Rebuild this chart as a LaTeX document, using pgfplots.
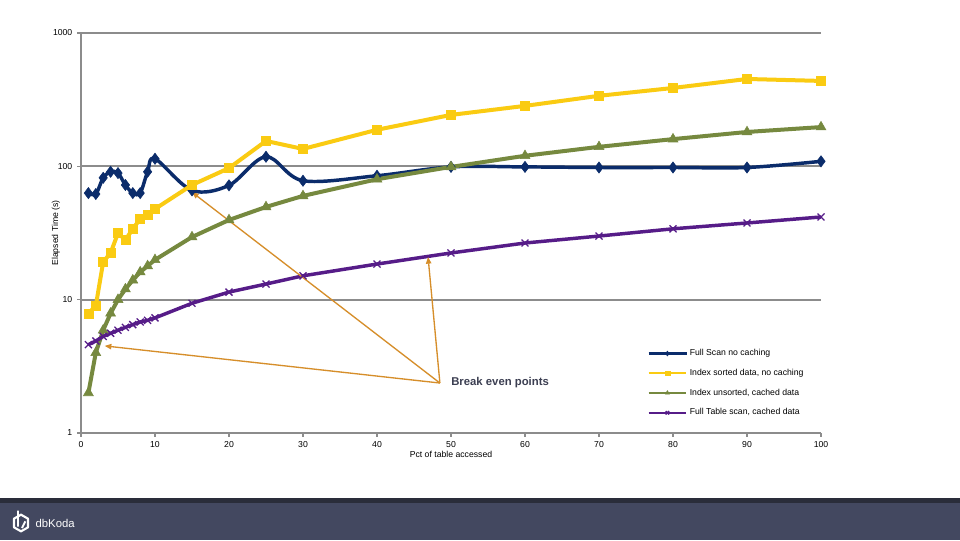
\documentclass[border=0pt]{standalone}
\usepackage{fontspec}
\setmainfont{Liberation Sans}
\usepackage{pgfplots}
\pgfplotsset{compat=1.18}
\usetikzlibrary{arrows.meta}
\definecolor{scan}{HTML}{0B2C6B}
\definecolor{sorted}{HTML}{FACB12}
\definecolor{unsorted}{HTML}{76893F}
\definecolor{cached}{HTML}{561C88}
\definecolor{note}{HTML}{D68E2A}
\definecolor{notetext}{HTML}{3C3F52}
\definecolor{gridgray}{HTML}{8C8C8C}
\definecolor{barblue}{HTML}{434860}
\definecolor{bardark}{HTML}{2A2D3A}

\pgfplotstableread{
x   scan  sorted unsorted cached
1   63    7.9    2.0      4.6
2   62    9.0    4.0      4.9
3   82    19.2   5.9      5.3
4   91    22.4   7.9      5.6
5   89    31.6   10.0     5.9
6   72.5  28.0   12.0     6.2
7   63    34.0   14.0     6.5
8   63    40.3   16.1     6.8
9   91    43.2   17.9     7.0
10  114   47.9   19.9     7.3
15  66    72.5   29.5     9.4
20  72    97     39.6     11.4
25  118   155    49.6     13.1
30  78    135    60       15.1
40  85    188    80       18.5
50  99    243    99       22.4
60  99    284    120      26.6
70  98    338    140      30
80  98    387    160      34
90  98    452    181      37.6
100 109   437    197      41.7
}\timings

\begin{document}
\begin{tikzpicture}
% page 960 x 540 px at 0.75pt per px
\fill[white] (0,0) rectangle (720pt,405pt);
\fill[barblue] (0,0) rectangle (720pt,27.75pt);
\fill[bardark] (0,27.75pt) rectangle (720pt,31.5pt);
% logo mark and name
\draw[white, line width=1.6pt, line join=round]
  (15.75pt,19pt) -- (21pt,16pt) -- (21pt,9.5pt) -- (15.75pt,6.5pt) -- (10.5pt,9.5pt) -- (10.5pt,16pt) -- cycle;
\draw[white, line width=1.4pt] (13.5pt,10pt) -- (13.5pt,22pt) (16.5pt,9pt) -- (19pt,14pt);
\node[white, anchor=west, font=\fontsize{8.5}{9}\selectfont, inner sep=0pt] at (26.5pt,12.5pt) {dbKoda};

\begin{axis}[
    at={(60.75pt,80.25pt)}, anchor=south west,
    scale only axis, width=555pt, height=300pt,
    xmin=0, xmax=100, ymin=1, ymax=1000, ymode=log,
    axis x line*=bottom, axis y line*=left,
    axis line style={gridgray, line width=1.3pt, -},
    xtick={0,10,...,100},
    ytick={1,10,100,1000}, yticklabels={1,10,100,1000},
    yminorticks=false,
    tick style={gridgray, line width=0.8pt},
    tick align=outside, major tick length=3pt,
    ymajorgrids, grid style={gridgray, line width=1.3pt},
    /pgf/number format/assume math mode=true,
    tick label style={font=\fontsize{6.5}{7}\selectfont},
    label style={font=\fontsize{6.5}{7}\selectfont},
    xlabel={Pct of table accessed},
    ylabel={Elapsed Time (s)},
    xlabel style={yshift=4pt},
    ylabel style={yshift=-12pt},
    legend style={at={(0.76,0.223)}, anchor=north west, draw=none, fill=none,
      font=\fontsize{6.5}{7}\selectfont, row sep=4.6pt},
    legend cell align=left,
    legend image code/.code={
      \draw[mark repeat=2, mark phase=2, #1, line width=1.6pt, mark size=1.8pt]
        plot coordinates {(0pt,0pt) (14pt,0pt) (28pt,0pt)};},
  ]
  \addplot[scan, line width=2.6pt, smooth, tension=0.55, mark=diamond*, mark size=4.2pt,
    mark options={line width=0.4pt}]
    table[x=x, y=scan] {\timings};
  \addlegendentry{Full Scan no caching}
  \addplot[sorted, line width=3pt, mark=square*, mark size=3.4pt,
    mark options={line width=0.4pt}]
    table[x=x, y=sorted] {\timings};
  \addlegendentry{Index sorted data, no caching}
  \addplot[unsorted, line width=3pt, mark=triangle*, mark size=4.3pt,
    mark options={line width=0.4pt}]
    table[x=x, y=unsorted] {\timings};
  \addlegendentry{Index unsorted, cached data}
  \addplot[cached, line width=2.6pt, mark=x, mark size=3.7pt, mark options={line width=1pt}]
    table[x=x, y=cached] {\timings};
  \addlegendentry{Full Table scan, cached data}

  % break even annotation
  \draw[note, line width=1pt, -{Triangle[length=5pt, width=4pt]}]
    (axis cs:48.5,2.37) -- (axis cs:15,64);
  \draw[note, line width=1pt, -{Triangle[length=5pt, width=4pt]}]
    (axis cs:48.5,2.37) -- (axis cs:3.2,4.5);
  \draw[note, line width=1pt, -{Triangle[length=5pt, width=4pt]}]
    (axis cs:48.5,2.37) -- (axis cs:46.9,20.9);
  \node[notetext, anchor=west, font=\bfseries\fontsize{8.5}{10}\selectfont, inner sep=0pt]
    at (axis cs:50,2.37) {Break even points};
\end{axis}
\end{tikzpicture}
\end{document}
